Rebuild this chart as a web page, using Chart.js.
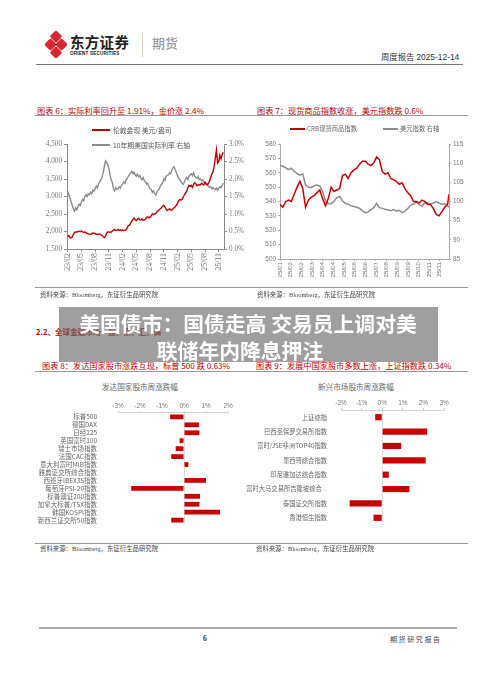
<!DOCTYPE html>
<html><head><meta charset="utf-8">
<script src="https://cdn.jsdelivr.net/npm/chart.js@4.4.1/dist/chart.umd.min.js"></script>
<style>
html,body{margin:0;padding:0;background:#fff;}
body{width:500px;height:678px;position:relative;overflow:hidden;font-family:"Noto Sans CJK SC","Noto Sans",sans-serif;}
.t{position:absolute;line-height:1;white-space:nowrap;transform:translateY(-50%);}
canvas{position:absolute;}
.red{color:#c00000;}
.src{font-size:6.4px;color:#444;}
.ttl{font-size:8.2px;color:#c00000;}
.lg{font-size:6.8px;color:#555;}
.sw{position:absolute;height:2px;}
</style></head><body>

<!-- header -->
<svg style="position:absolute;left:45px;top:31px" width="22" height="27" viewBox="0 0 22 27">
  <g fill="#d7282f">
    <rect x="6.5" y="1" width="9" height="9" rx="2" transform="rotate(45 11 5.5)"/>
    <rect x="1" y="9" width="9" height="9" rx="2" transform="rotate(45 5.5 13.5)"/>
    <rect x="12" y="9" width="9" height="9" rx="2" transform="rotate(45 16.5 13.5)"/>
    <rect x="6.5" y="17" width="9" height="9" rx="2" transform="rotate(45 11 21.5)"/>
  </g>
</svg>
<div class="t" style="left:70px;top:42px;font-size:14.5px;font-weight:700;color:#222;letter-spacing:0.3px">东方证券</div>
<div class="t" style="left:70px;top:53.5px;font-size:4.6px;font-weight:700;color:#222;font-family:'Liberation Sans';letter-spacing:0.2px">ORIENT SECURITIES</div>
<div style="position:absolute;left:142px;top:33px;width:1px;height:24px;background:#d9d2c3"></div>
<div class="t" style="left:152px;top:42px;font-size:13px;color:#9a9a9a;font-weight:500">期货</div>
<div class="t" style="left:381px;top:57px;font-size:8.4px;color:#333">周度报告 <span style="font-family:'Liberation Sans'">2025-12-14</span></div>
<div style="position:absolute;left:36px;top:63.5px;width:427px;height:1px;background:#777"></div>

<!-- chart 6/7 titles -->
<div class="t ttl" style="left:37px;top:110px">图表 6：实际利率回升至 1.91%，金价涨 2.4%</div>
<div class="t ttl" style="left:257px;top:110px">图表 7：现货商品指数收涨，美元指数跌 0.6%</div>
<div style="position:absolute;left:35px;top:115px;width:433px;height:1px;background:#999"></div>

<canvas id="c6" width="220" height="170" style="left:30px;top:118px;width:220px;height:170px"></canvas>
<canvas id="c7" width="230" height="172" style="left:250px;top:118px;width:230px;height:172px"></canvas>

<!-- legends -->
<div class="sw" style="left:92px;top:129px;width:18px;background:#c00000"></div>
<div class="t lg" style="left:113px;top:130px">伦敦金现 美元/盎司</div>
<div class="sw" style="left:92px;top:144px;width:18px;background:#8c8c8c"></div>
<div class="t lg" style="left:113px;top:145px">10年期美国实际利率 右轴</div>
<div class="sw" style="left:290px;top:128px;width:15px;background:#c00000"></div>
<div class="t" style="left:307px;top:129px;font-size:6.3px;color:#666">CRB现货商品指数</div>
<div class="sw" style="left:383px;top:128px;width:15px;background:#8c8c8c"></div>
<div class="t" style="left:400px;top:129px;font-size:6.3px;color:#666">美元指数 右轴</div>

<div style="position:absolute;left:35px;top:287px;width:433px;height:1px;background:#999"></div>
<div class="t src" style="left:40px;top:295px">资料来源：<span style="font-family:'Liberation Serif'">Bloomberg</span>，东证衍生品研究院</div>
<div class="t src" style="left:257px;top:295px">资料来源：<span style="font-family:'Liberation Serif'">Bloomberg</span>，东证衍生品研究院</div>

<div class="t red" style="left:36px;top:332px;font-size:7.6px;font-weight:700">2.2、全球金融市场一股、债、汇、商</div>

<!-- chart 8/9 titles -->
<div class="t ttl" style="left:42px;top:365px">图表 8：发达国家股市涨跌互现，标普 500 跌 0.63%</div>
<div class="t ttl" style="left:256px;top:365px">图表 9：发展中国家股市多数上涨，上证指数跌 0.34%</div>
<div style="position:absolute;left:35px;top:370.5px;width:433px;height:1px;background:#999"></div>

<!-- overlay -->
<div style="position:absolute;left:59px;top:307px;width:379px;height:55px;background:rgba(105,105,105,0.64)"></div>
<div class="t" style="left:0;width:496px;text-align:center;top:323px;font-size:20.8px;font-weight:700;color:#fff">美国债市：国债走高 交易员上调对美</div>
<div class="t" style="left:0;width:480px;text-align:center;top:350px;font-size:20.8px;font-weight:700;color:#fff">联储年内降息押注</div>

<div class="t" style="left:30px;width:220px;text-align:center;top:387px;font-size:7.6px;color:#666">发达国家股市周涨跌幅</div>
<div class="t" style="left:250px;width:212px;text-align:center;top:387px;font-size:7.6px;color:#666">新兴市场股市周涨跌幅</div>

<canvas id="c8" width="220" height="145" style="left:30px;top:396px;width:220px;height:145px"></canvas>
<canvas id="c9" width="242" height="145" style="left:238px;top:395px;width:242px;height:145px"></canvas>

<div style="position:absolute;left:35px;top:543px;width:433px;height:1px;background:#999"></div>
<div class="t src" style="left:40px;top:549px">资料来源：<span style="font-family:'Liberation Serif'">Bloomberg</span>，东证衍生品研究院</div>
<div class="t src" style="left:256px;top:549px">资料来源：<span style="font-family:'Liberation Serif'">Bloomberg</span>，东证衍生品研究院</div>

<!-- footer -->
<div style="position:absolute;left:39px;top:627px;width:418px;height:2px;background:#aaa"></div>
<div class="t" style="left:203px;top:639px;font-size:7.5px;font-weight:700;color:#333;font-family:'Liberation Serif'">6</div>
<div class="t" style="left:390px;top:639px;font-size:7px;color:#444;letter-spacing:1.6px">期货研究报告</div>

<script>
// ---------- Chart 6 data ----------
const goldMonths = [
 1,1.25,1.5,1.75, 2,2.25,2.5,2.75, 3,3.25,3.5,3.75, 4,4.25,4.5,4.75, 5,5.25,5.5,5.75,
 6,6.25,6.5,6.75, 7,7.25,7.5,7.75, 8,8.25,8.5,8.75, 9,9.25,9.5,9.75, 10,10.25,10.5,10.75,
 11,11.25,11.5,11.75, 12,12.25,12.5,12.75, 13,13.25,13.5,13.75, 14,14.25,14.5,14.75,
 15,15.25,15.5,15.75, 16,16.25,16.5,16.75, 17,17.25,17.5,17.75, 18,18.25,18.5,18.75,
 19,19.25,19.5,19.75, 20,20.25,20.5,20.75, 21,21.25,21.5,21.75, 22,22.25,22.5,22.75,
 23,23.25,23.5,23.75, 24,24.25,24.5,24.75, 25,25.25,25.5,25.75, 26,26.25,26.5,26.75,
 27,27.25,27.5,27.75, 28,28.25,28.5,28.75, 29,29.25,29.5,29.75, 30,30.25,30.5,30.75,
 31,31.25,31.5,31.75, 32,32.25,32.5,32.75, 33,33.25,33.5,33.75, 34,34.25,34.5,34.75, 35];
const goldPrice = [
 1850,1880,1825,1815, 1840,1920,1975,1990, 1985,2000,2010,1995, 2015,1990,1975,1985, 1960,1945,1930,1925,
 1915,1940,1960,1950, 1940,1915,1925,1920, 1930,1915,1880,1865, 1830,1860,1950,1985, 1990,1975,1985,2010,
 2040,2060,2030,2040, 2060,2030,2050,2030, 2040,2025,2035,2050, 2100,2170,2180,2230,
 2290,2340,2380,2330, 2310,2350,2380,2340, 2330,2360,2320,2330, 2350,2400,2420,2390,
 2410,2450,2500,2480, 2500,2510,2560,2590, 2630,2650,2680,2730, 2750,2700,2640,2600,
 2630,2650,2620,2610, 2640,2680,2710,2750, 2800,2880,2910,2900, 2920,2980,3050,3100,
 3150,3250,3320,3290, 3320,3260,3350,3390, 3360,3310,3340,3320, 3340,3380,3350,3330,
 3400,3350,3330,3380, 3440,3550,3650,3700, 3860,4100,4330,3960, 4000,4180,4080,4200, 4260];
const realRate = [
 1.65,1.55,1.45,1.35, 1.25,1.15,1.08,1.18, 1.12,1.22,1.28,1.24, 1.35,1.42,1.38,1.50, 1.55,1.50,1.58,1.55,
 1.62,1.58,1.68,1.65, 1.72,1.80,1.75,1.85, 1.92,1.98,2.05,2.18, 2.35,2.52,2.48,2.40, 2.30,2.12,1.98,1.90,
 1.72,1.66,1.75,1.70, 1.72,1.78,1.74,1.82, 1.85,1.92,1.88,1.98, 2.02,2.08,2.12,2.18,
 2.22,2.15,2.20,2.12, 2.08,2.14,2.06,2.10, 2.02,1.98,2.04,1.95, 1.92,1.86,1.88,1.78,
 1.72,1.70,1.62,1.66, 1.58,1.55,1.62,1.68, 1.72,1.80,1.85,1.90, 2.00,1.96,2.08,2.10,
 2.12,2.18,2.15,2.25, 2.32,2.35,2.25,2.18, 2.10,2.02,1.98,1.92, 1.88,1.85,1.92,2.00,
 2.05,1.98,2.08,2.12, 2.15,2.10,2.18,2.08, 2.05,2.02,2.08,1.98, 2.00,1.95,1.98,1.90,
 1.92,1.88,1.85,1.80, 1.76,1.78,1.72,1.75, 1.72,1.70,1.74,1.68, 1.74,1.78,1.76,1.82, 1.88];
const c6TickMonths = [1,4,7,10,13,16,19,22,25,28,31,34];
const c6TickLabels = ['23/02','23/05','23/08','23/11','24/02','24/05','24/08','24/11','25/02','25/05','25/08','25/11'];

// ---------- Chart 7 data ----------
const crbDays = [0,4,8,12,16,20,24,28,32,36,40,44,48,52,56,60,64,68,72,76,80,84,88,92,96,100,104,108,112,116,
 120,124,128,132,136,140,144,148,152,156,160,164,168,172,176,180,184,188,192,196,200,204,208,212,216,220,224,228,232,236,238];
const crbIndex = [538,536,540,541,540,545,550,554,549,536,541,543,544,546,548,542,537,542,550,547,548,549,558,559,556,560,562,563,566,568,
 568,566,565,567,571,569,561,559,560,556,555,554,552,553,549,546,544,540,540,539,541,540,538,538,535,531,530,533,536,538,545];
const dxyIndex = [109.5,109.2,108.8,108.3,108.7,107.9,107.3,106.9,107.2,104.3,103.7,103.6,104.1,104.3,104.0,102.6,100.2,99.5,99.4,100.1,
 101.0,101.3,100.2,99.5,99.3,98.9,98.7,98.5,98.2,97.6,97.0,97.3,97.9,98.4,99.5,98.4,98.2,98.0,97.8,97.6,
 97.9,97.5,97.7,97.1,97.5,98.2,99.0,99.3,99.8,99.2,98.8,99.7,99.6,99.3,99.6,100.0,99.6,99.3,99.4,98.9,98.5];
const c7TickDays = [0,15,30,45,60,75,90,105,120,135,150,165,180,195,210,225];
const c7TickLabels = ['25/01','25/02','25/02','25/03','25/04','25/04','25/05','25/06','25/06','25/07','25/08','25/09','25/09','25/10','25/11','25/11'];

// ---------- Chart 8 data ----------
const devMarkets = ['标普500','德国DAX','日经225','英国富时100','瑞士市场指数','法国CAC指数','意大利富时MIB指数','雅典证交所综合指数','西班牙IBEX35指数','葡萄牙PSI-20指数','标普澳证200指数','加拿大标普/TSX指数','韩国KOSPI指数','新西兰证交所50指数'];
const devChange = [-0.63,0.68,0.70,-0.20,-0.38,-0.58,0.20,-0.02,1.00,-2.40,0.73,0.70,1.64,-0.58];

// ---------- Chart 9 data ----------
const emMarkets = ['上证综指','巴西圣保罗交易所指数','富时/JSE非洲TOP40指数','墨西哥综合指数','印尼雅加达综合指数','富时大马交易所吉隆坡综合...','泰国证交所指数','香港恒生指数'];
const emChange = [-0.34,2.18,0.92,2.11,0.32,1.32,-1.58,-0.42];

const RED = '#c00000', GREY = '#8c8c8c';
const serif = 'Liberation Serif', sans = 'Liberation Sans';
const cjk = '"Noto Sans CJK SC", "Liberation Sans", sans-serif';
const axisCol = '#8a8a8a';
const fixW = w => s => { s.width = w; };
const fixH = h => s => { s.height = h; };

const base = { animation:false, responsive:false, events:[], plugins:{legend:{display:false}, tooltip:{enabled:false}} };

// Chart 6
new Chart(document.getElementById('c6'), {
  type:'line',
  data:{datasets:[
    {data: goldMonths.map((m,i)=>({x:m,y:goldPrice[i]})), borderColor:RED, borderWidth:1.4, pointRadius:0, tension:0, yAxisID:'y'},
    {data: goldMonths.map((m,i)=>({x:m,y:realRate[i]})), borderColor:GREY, borderWidth:1.4, pointRadius:0, tension:0, yAxisID:'y1'}
  ]},
  options:{...base,
    layout:{padding:{top:26,left:0,right:0,bottom:0}},
    scales:{
      x:{type:'linear', min:0.85, max:35.15,
         afterBuildTicks: ax => { ax.ticks = c6TickMonths.map(v=>({value:v})); },
         ticks:{callback:v=>c6TickLabels[c6TickMonths.indexOf(v)], autoSkip:false, minRotation:90, maxRotation:90, font:{family:serif,size:7.8}, color:'#777', padding:1},
         grid:{drawOnChartArea:false, tickLength:3, color:axisCol}, border:{color:axisCol}, afterFit:fixH(39)},
      y:{position:'left', min:1500, max:4500,
         ticks:{stepSize:500, callback:v=>v.toLocaleString('en-US'), font:{family:serif,size:7.2}, color:'#777', padding:2},
         grid:{drawOnChartArea:false, tickLength:3, color:axisCol}, border:{color:axisCol}, afterFit:fixW(37)},
      y1:{position:'right', min:0, max:3,
         ticks:{stepSize:0.5, callback:v=>v.toFixed(1)+'%', font:{family:serif,size:7.2}, color:'#777', padding:2},
         grid:{drawOnChartArea:false, tickLength:3, color:axisCol}, border:{color:axisCol}, afterFit:fixW(26)}
    }}
});

// Chart 7
new Chart(document.getElementById('c7'), {
  type:'line',
  data:{datasets:[
    {data: crbDays.map((d,i)=>({x:d,y:crbIndex[i]})), borderColor:'#cc0000', borderWidth:1.5, pointRadius:0, tension:0, yAxisID:'y'},
    {data: crbDays.map((d,i)=>({x:d,y:dxyIndex[i]})), borderColor:GREY, borderWidth:1.5, pointRadius:0, tension:0, yAxisID:'y1'}
  ]},
  options:{...base,
    layout:{padding:{top:26,left:0,right:0,bottom:0}},
    scales:{
      x:{type:'linear', min:0, max:238,
         afterBuildTicks: ax => { ax.ticks = c7TickDays.map(v=>({value:v})); },
         ticks:{callback:v=>c7TickLabels[c7TickDays.indexOf(v)], autoSkip:false, minRotation:90, maxRotation:90, font:{family:sans,size:6.2}, color:'#777', padding:1},
         grid:{drawOnChartArea:false, tickLength:2, color:'#aaa'}, border:{color:'#aaa'}, afterFit:fixH(31)},
      y:{position:'left', min:500, max:580,
         ticks:{stepSize:10, font:{family:sans,size:6.4}, color:'#777', padding:2},
         grid:{drawOnChartArea:false, tickLength:2, color:'#aaa'}, border:{color:'#aaa'}, afterFit:fixW(30)},
      y1:{position:'right', min:85, max:115,
         ticks:{stepSize:5, font:{family:sans,size:6.4}, color:'#777', padding:2},
         grid:{drawOnChartArea:false, tickLength:2, color:'#aaa'}, border:{color:'#aaa'}, afterFit:fixW(31)}
    }}
});

function barChart(id, labels, values, opts){
  new Chart(document.getElementById(id), {
    type:'bar',
    data:{labels:labels, datasets:[{data:values, backgroundColor:'#c80000', barPercentage:opts.bp, categoryPercentage:1}]},
    options:{...base, indexAxis:'y',
      layout:{padding:{top:0,left:0,right:opts.right,bottom:opts.bottom}},
      scales:{
        x:{position:'top', min:opts.min, max:opts.max,
           ticks:{stepSize:1, callback:v=>v+'%', font:{family:sans,size:6.4}, color:'#777', padding:1},
           grid:{color:c=> (c.tick && c.tick.value===0) ? '#dedede' : 'rgba(0,0,0,0)', tickColor:'#cfcfcf', tickLength:2},
           border:{color:'#d4d4d4'}, afterFit:fixH(15)},
        y:{ticks:{autoSkip:false, font:{family:cjk,size:opts.fs}, color:'#666', padding:opts.pad},
           grid:{display:false}, border:{display:false}, afterFit:fixW(opts.yw)}
      }}
  });
}
barChart('c8', devMarkets, devChange, {min:-3,max:2,bp:0.6,right:22,bottom:8,fs:6.5,pad:13,yw:88});
barChart('c9', emMarkets, emChange, {min:-2,max:3,bp:0.43,right:36,bottom:15,fs:6.3,pad:6,yw:103});
</script>
</body></html>
